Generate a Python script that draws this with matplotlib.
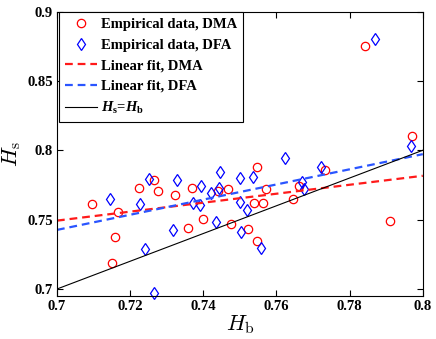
import numpy as np
import matplotlib
matplotlib.use('Agg')
import matplotlib.pyplot as plt
from matplotlib.font_manager import FontProperties

# data
hb_dma = [0.7096, 0.7168, 0.7159, 0.7151, 0.7225, 0.7266, 0.7275, 0.7322, 0.7369,
          0.7358, 0.7400, 0.7441, 0.7467, 0.7477, 0.7521, 0.7538, 0.7564, 0.7548,
          0.7571, 0.7547, 0.7646, 0.7662, 0.7734, 0.7842, 0.7971, 0.7910]
hs_dma = [0.7613, 0.7555, 0.7376, 0.7187, 0.7726, 0.7785, 0.7710, 0.7677, 0.7726,
          0.7439, 0.7507, 0.7708, 0.7723, 0.7471, 0.7435, 0.7618, 0.7618, 0.7879,
          0.7719, 0.7345, 0.7651, 0.7744, 0.7857, 0.8750, 0.8101, 0.7489]
hb_dfa = [0.7145, 0.7241, 0.7226, 0.7252, 0.7327, 0.7317, 0.7266, 0.7393, 0.7372,
          0.7391, 0.7420, 0.7446, 0.7443, 0.7435, 0.7501, 0.7499, 0.7520, 0.7502,
          0.7537, 0.7558, 0.7622, 0.7670, 0.7675, 0.7722, 0.7868, 0.7968]
hs_dfa = [0.7647, 0.7290, 0.7613, 0.7796, 0.7785, 0.7426, 0.6971, 0.7740, 0.7620,
          0.7603, 0.7690, 0.7841, 0.7726, 0.7482, 0.7801, 0.7624, 0.7573, 0.7413,
          0.7810, 0.7295, 0.7945, 0.7769, 0.7719, 0.7876, 0.8800, 0.8034]

# linear fits (slope, intercept) as shown in the figure
fit_dma = [0.323, 0.5232]
fit_dfa = [0.546, 0.3604]

plt.rcParams['font.family'] = 'Liberation Serif'
plt.rcParams['font.weight'] = 'bold'
plt.rcParams['mathtext.fontset'] = 'custom'
plt.rcParams['mathtext.rm'] = 'Liberation Serif:bold'
plt.rcParams['mathtext.it'] = 'Liberation Serif:bold:italic'

fig = plt.figure(figsize=(4.36, 3.39), dpi=100)
ax = fig.add_axes([0.1307, 0.127, 0.839, 0.839])

xx = np.array([0.7, 0.8])

ax.plot(hb_dma, hs_dma, 'o', mfc='none', mec='r', ms=6, mew=0.9,
        label='Empirical data, DMA', clip_on=False)
ax.plot(hb_dfa, hs_dfa, 'd', mfc='none', mec='b', ms=6.5, mew=0.9,
        label='Empirical data, DFA', clip_on=False)
ax.plot(xx, np.polyval(fit_dma, xx), '--', color='#ff1a1a', lw=1.6, dashes=(3.5, 2.2),
        label='Linear fit, DMA')
ax.plot(xx, np.polyval(fit_dfa, xx), '--', color='#2a55ff', lw=1.6, dashes=(3.5, 2.2),
        label='Linear fit, DFA')
ax.plot(xx, xx, '-', color='k', lw=0.8, label=r'$H_{\mathrm{s}}$=$H_{\mathrm{b}}$')

ax.set_xlim(0.7, 0.8)
ax.set_ylim(0.695, 0.9)
ax.set_xticks([0.7, 0.72, 0.74, 0.76, 0.78, 0.8])
ax.set_xticklabels(['0.7', '0.72', '0.74', '0.76', '0.78', '0.8'])
ax.set_yticks([0.7, 0.75, 0.8, 0.85, 0.9])
ax.set_yticklabels(['0.7', '0.75', '0.8', '0.85', '0.9'])
ax.tick_params(direction='in', top=True, right=True, length=4, width=0.8,
               labelsize=10.5, pad=3)
for s in ax.spines.values():
    s.set_linewidth(0.8)

lab = FontProperties(size=16, math_fontfamily='cm')
ax.set_xlabel(r'$H_\mathrm{b}$', fontproperties=lab, labelpad=0)
ax.set_ylabel(r'$H_\mathrm{s}$', fontproperties=lab, labelpad=3)

leg = ax.legend(loc='upper left', bbox_to_anchor=(0.005, 0.998),
                prop={'size': 10.5, 'weight': 'bold'}, fancybox=False,
                edgecolor='k', framealpha=1, handlelength=2.2, handletextpad=0.3,
                labelspacing=0.5, borderpad=0.4, borderaxespad=0)
leg.get_frame().set_linewidth(0.8)

fig.savefig('out.png', dpi=100)
